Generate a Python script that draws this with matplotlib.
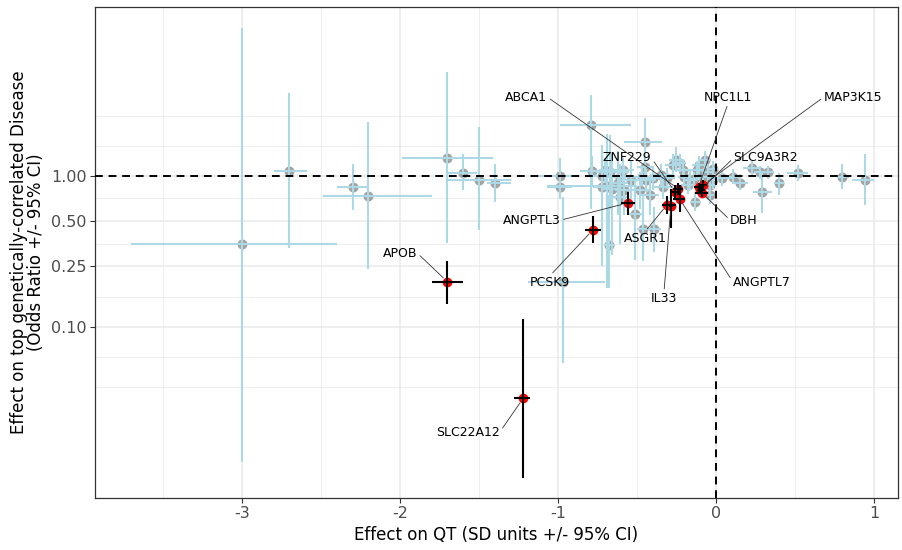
import numpy as np
import matplotlib
matplotlib.use('Agg')
import matplotlib.pyplot as plt

# background genes (gray points, light blue CIs)
gx = [-3.00, -2.70, -2.30, -2.20, -1.70, -1.60, -1.50, -1.40, -0.99, -0.99, -0.97, -0.68, -0.79, -0.45,
      -0.785, -0.72, -0.70, -0.67, -0.61, -0.54, -0.47, -0.72, -0.69, -0.66, -0.62, -0.61, -0.51, -0.46,
      -0.39, -0.40, -0.335, -0.45, -0.27, -0.25, -0.21, -0.165, -0.12, -0.11, -0.07, -0.05, -0.02, -0.13,
      -0.35, -0.31, -0.20, -0.18, -0.04, -0.04, -0.42, -0.48, -0.58, -0.59, -0.44, -0.23, -0.08, -0.14, -0.02,
      0.04, 0.11, 0.15, 0.23, 0.28, 0.33, 0.29, 0.40, 0.52, 0.80, 0.94]
gy = [0.35, 1.07, 0.84, 0.73, 1.31, 1.04, 0.94, 0.90, 0.99, 0.84, 0.197, 0.346, 2.16, 1.67,
      1.07, 0.99, 1.09, 1.05, 0.98, 0.93, 0.98, 0.84, 0.85, 0.81, 0.90, 0.72, 0.56, 0.44,
      0.44, 0.96, 0.84, 1.14, 1.17, 1.27, 1.09, 0.93, 1.09, 1.17, 1.27, 1.05, 0.93, 0.67,
      1.01, 0.96, 0.98, 0.86, 0.86, 0.74, 0.74, 0.80, 0.80, 1.09, 0.93, 1.21, 0.98, 0.95, 1.10,
      0.96, 0.98, 0.90, 1.12, 1.05, 1.05, 0.78, 0.90, 1.04, 0.98, 0.93]
gxlo = [-3.70, -2.80, -2.40, -2.49, -1.99, -1.70, -1.70, -1.45, -1.12, -1.07, -1.19, -0.71, -0.99, -0.58,
        -0.86, -0.80, -0.74, -0.76, -0.70, -0.62, -0.55, -0.78, -1.07, -0.72, -0.68, -0.66, -0.55, -0.50,
        -0.43, -0.46, -0.40, -0.50, -0.32, -0.30, -0.26, -0.21, -0.16, -0.15, -0.11, -0.09, -0.06, -0.16,
        -0.42, -0.36, -0.24, -0.22, -0.08, -0.07, -0.48, -0.55, -0.64, -0.66, -0.50, -0.27, -0.12, -0.18, -0.05,
        -0.02, 0.06, 0.10, 0.17, 0.24, 0.29, 0.235, 0.37, 0.45, 0.77, 0.86]
gxhi = [-2.40, -2.59, -2.20, -1.80, -1.41, -1.51, -1.30, -1.30, -0.88, -0.91, -0.70, -0.64, -0.54, -0.34,
        -0.70, -0.62, -0.66, -0.55, -0.52, -0.45, -0.40, -0.66, -0.50, -0.60, -0.56, -0.55, -0.47, -0.41,
        -0.35, -0.34, -0.27, -0.40, -0.22, -0.20, -0.16, -0.12, -0.08, -0.07, -0.03, -0.01, 0.02, -0.10,
        -0.28, -0.26, -0.16, -0.14, 0.00, -0.01, -0.36, -0.41, -0.52, -0.52, -0.38, -0.19, -0.04, -0.10, 0.01,
        0.10, 0.16, 0.20, 0.28, 0.32, 0.37, 0.355, 0.43, 0.58, 0.84, 1.00]
gylo = [0.0127, 0.33, 0.59, 0.24, 0.357, 0.80, 0.436, 0.667, 0.75, 0.70, 0.057, 0.18, 0.60, 1.15,
        0.85, 0.70, 0.90, 0.60, 0.80, 0.70, 0.85, 0.25, 0.18, 0.30, 0.55, 0.35, 0.275, 0.27,
        0.31, 0.80, 0.70, 0.95, 1.00, 1.05, 0.95, 0.80, 0.95, 1.02, 1.10, 0.92, 0.82, 0.58,
        0.85, 0.82, 0.86, 0.75, 0.76, 0.65, 0.55, 0.60, 0.55, 0.90, 0.78, 1.05, 0.88, 0.85, 0.98,
        0.85, 0.88, 0.80, 1.00, 0.95, 0.95, 0.565, 0.74, 0.92, 0.81, 0.64]
gyhi = [9.5, 3.55, 1.19, 2.26, 4.84, 1.39, 2.09, 1.19, 1.30, 1.00, 0.72, 0.74, 3.4, 2.4,
        1.35, 1.40, 1.30, 1.85, 1.20, 1.25, 1.15, 1.60, 1.90, 1.40, 1.45, 1.20, 0.95, 0.75,
        0.62, 1.15, 1.00, 1.35, 1.40, 1.55, 1.25, 1.08, 1.25, 1.35, 1.45, 1.20, 1.06, 0.78,
        1.20, 1.12, 1.12, 0.98, 0.98, 0.84, 1.00, 1.05, 1.15, 1.30, 1.10, 1.40, 1.10, 1.06, 1.24,
        1.08, 1.10, 1.02, 1.25, 1.15, 1.15, 1.04, 1.04, 1.18, 1.20, 1.38]

# highlighted genes (red points, black CIs)
genes = ['ABCA1', 'ZNF229', 'NPC1L1', 'MAP3K15', 'SLC9A3R2', 'DBH', 'ANGPTL7', 'IL33', 'ASGR1',
         'ANGPTL3', 'PCSK9', 'APOB', 'SLC22A12']
hx = [-0.24, -0.26, -0.11, -0.08, -0.10, -0.09, -0.23, -0.285, -0.31, -0.56, -0.78, -1.70, -1.22]
hy = [0.82, 0.78, 0.84, 0.87, 0.80, 0.77, 0.70, 0.63, 0.64, 0.658, 0.436, 0.198, 0.0335]
hxlo = [-0.27, -0.28, -0.14, -0.10, -0.12, -0.13, -0.27, -0.30, -0.34, -0.60, -0.83, -1.80, -1.28]
hxhi = [-0.21, -0.23, -0.08, -0.06, -0.07, -0.05, -0.195, -0.27, -0.25, -0.51, -0.73, -1.60, -1.18]
hylo = [0.74, 0.70, 0.78, 0.82, 0.76, 0.72, 0.57, 0.45, 0.56, 0.55, 0.357, 0.141, 0.0099]
hyhi = [0.90, 0.87, 0.90, 0.93, 0.86, 0.83, 0.86, 0.82, 0.73, 0.78, 0.54, 0.272, 0.112]

# where the repelled labels ended up, and which side of the label the segment leaves from
label_x = [-1.20, -0.563, 0.076, 0.867, 0.316, 0.177, 0.291, -0.329, -0.449, -1.165, -1.05, -2.0, -1.57]
label_y = [3.31, 1.31, 3.31, 3.31, 1.31, 0.507, 0.197, 0.154, 0.385, 0.507, 0.197, 0.307, 0.0200]
label_side = ['right', 'right', 'bottom', 'left', 'left', 'left', 'left', 'top', 'top',
              'right', 'top', 'right', 'right']
SIDE_RELPOS = {'right': (1, 0.5), 'left': (0, 0.5), 'top': (0.5, 1), 'bottom': (0.5, 0)}

y_breaks = [0.1, 0.25, 0.5, 1.0]
y_labels = ['0.10', '0.25', '0.50', '1.00']
x_breaks = [-3, -2, -1, 0, 1]

GRID = '#EBEBEB'
LIGHTBLUE = '#ADD8E6'
GRAY = '#A3A3A3'


def minorBreaks(breaks, lo, hi):
    # ggplot style: midpoints of (extended) major breaks in transformed space
    b = list(breaks)
    d = b[1] - b[0]
    if lo < b[0]:
        b = [b[0] - d] + b
    if hi > b[-1]:
        b = b + [b[-1] + d]
    out = []
    for i in range(len(b) - 1):
        out.append(b[i])
        out.append((b[i] + b[i + 1]) / 2)
    out.append(b[-1])
    return [v for v in out if lo <= v <= hi and all(abs(v - m) > 1e-9 for m in breaks)]


fig = plt.figure(figsize=(9.02, 5.5), dpi=100)
ax = fig.add_axes([0.1053, 0.0945, 0.8903, 0.8925])
ax.set_yscale('log')
xlim = (-3.93, 1.152)
ylim = (0.00731, 13.06)
ax.set_xlim(xlim)
ax.set_ylim(ylim)

# grid
for v in minorBreaks(x_breaks, *xlim):
    ax.axvline(v, color=GRID, lw=0.6, zorder=0)
for v in x_breaks:
    ax.axvline(v, color=GRID, lw=1.2, zorder=0)
logb = list(np.log(y_breaks))
for v in minorBreaks(logb, np.log(ylim[0]), np.log(ylim[1])):
    ax.axhline(np.exp(v), color=GRID, lw=0.6, zorder=0)
for v in y_breaks:
    ax.axhline(v, color=GRID, lw=1.2, zorder=0)

# background genes
ax.plot(gx, gy, 'o', color=GRAY, ms=7.2, mew=0, zorder=2)
ax.vlines(gx, gylo, gyhi, color=LIGHTBLUE, lw=1.5, zorder=3)
ax.hlines(gy, gxlo, gxhi, color=LIGHTBLUE, lw=1.5, zorder=3)

# highlighted genes
ax.plot(hx, hy, 'o', color='#FF0000', ms=7.0, mew=0, zorder=4)
ax.vlines(hx, hylo, hyhi, color='black', lw=1.5, zorder=5)
ax.hlines(hy, hxlo, hxhi, color='black', lw=1.5, zorder=5)

ax.axhline(1, color='black', lw=1.4, ls=(0, (4, 3)), zorder=6)
ax.axvline(0, color='black', lw=1.4, ls=(0, (4, 3)), zorder=6)

for i in range(len(genes)):
    ax.annotate(genes[i], xy=(hx[i], hy[i]), xytext=(label_x[i], label_y[i]),
                ha='center', va='center', fontsize=9, color='black', zorder=7,
                arrowprops=dict(arrowstyle='-', color='#333333', lw=0.6,
                                relpos=SIDE_RELPOS[label_side[i]],
                                shrinkA=0, shrinkB=4))

ax.set_xticks(x_breaks)
ax.set_xticklabels([str(v) for v in x_breaks])
ax.set_yticks(y_breaks)
ax.set_yticklabels(y_labels)
ax.yaxis.set_minor_locator(matplotlib.ticker.NullLocator())
ax.tick_params(axis='both', which='major', length=3.6, width=0.8, color='#333333',
               labelcolor='#4D4D4D', labelsize=11.5, pad=2.5)
for s in ax.spines.values():
    s.set_color('#333333')
    s.set_linewidth(0.9)

ax.set_xlabel('Effect on QT (SD units +/- 95% CI)', fontsize=12, labelpad=3)
ax.set_ylabel('Effect on top genetically-correlated Disease\n(Odds Ratio +/- 95% CI)',
              fontsize=12, labelpad=4, linespacing=0.95)

fig.savefig('out.png', dpi=100)
